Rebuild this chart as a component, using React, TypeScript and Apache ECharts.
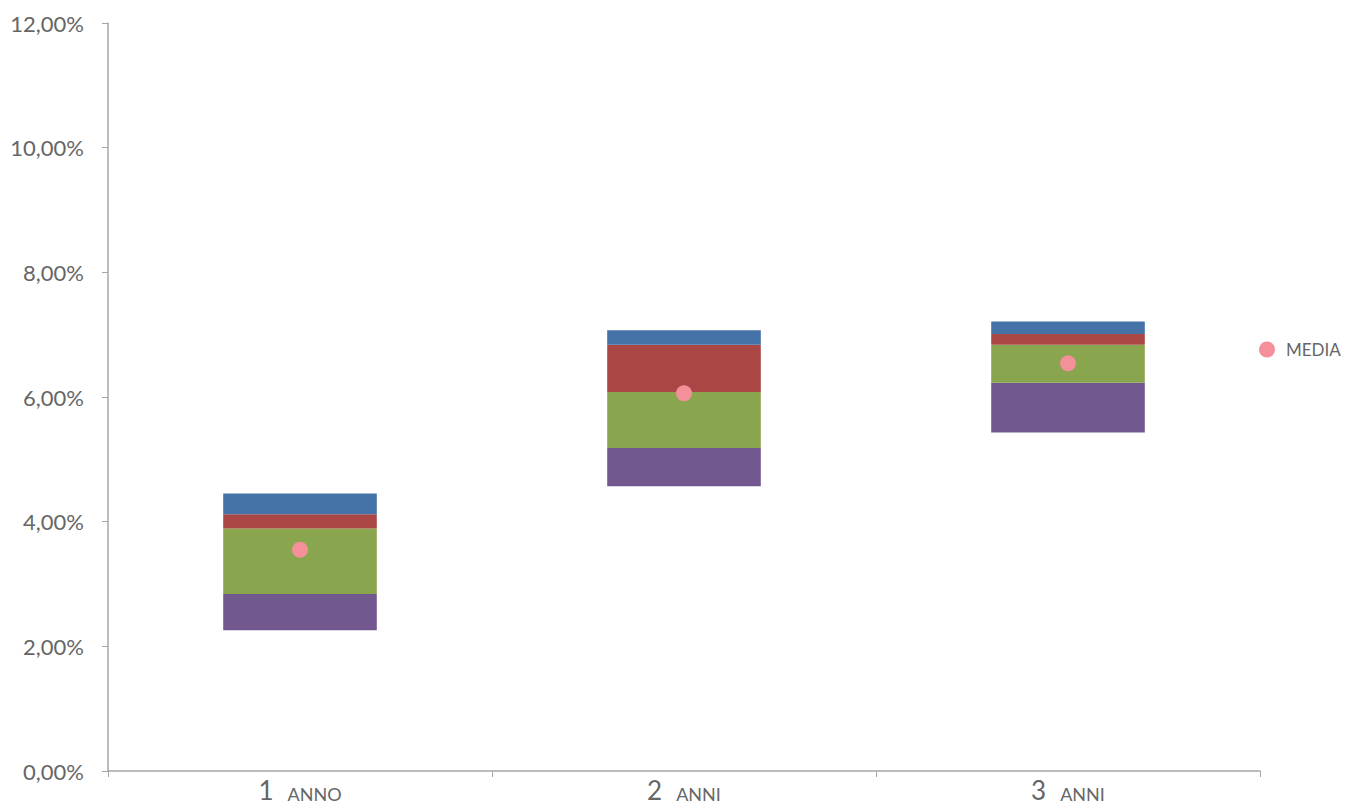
import React, { useEffect, useRef } from "react";
import * as echarts from "echarts";

const categories = ["1|ANNO", "2|ANNI", "3|ANNI"];
// boundaries of the coloured bands (percent)
const bandBottom = [2.26, 4.57, 5.43];
const purpleTop = [2.84, 5.18, 6.23];
const greenTop = [3.89, 6.08, 6.84];
const redTop = [4.12, 6.84, 7.01];
const blueTop = [4.45, 7.07, 7.21];
const media = [3.55, 6.06, 6.54];

const FONT = "Lato";
const TEXT = "#666666";
const AXIS = "#a6a6a6";

export default function App() {
  const ref = useRef<HTMLDivElement>(null);
  useEffect(() => {
    if (!ref.current) return;
    const chart = echarts.init(ref.current, undefined, { renderer: "svg" });
    const diff = (a: number[], b: number[]) => a.map((v, i) => +(v - b[i]).toFixed(4));
    const barCommon = {
      type: "bar" as const,
      stack: "total",
      barWidth: "40%",
      silent: true,
    };
    chart.setOption({
      animation: false,
      backgroundColor: "#ffffff",
      textStyle: { fontFamily: FONT },
      grid: { left: 108, right: 97, top: 23, bottom: 36, containLabel: false },
      legend: {
        data: ["MEDIA"],
        left: 1254,
        top: 336,
        icon: "circle",
        itemWidth: 28,
        itemHeight: 16,
        textStyle: { color: TEXT, fontSize: 17, fontFamily: FONT },
      },
      xAxis: {
        type: "category",
        data: categories,
        boundaryGap: true,
        axisLine: { lineStyle: { color: AXIS, width: 1.5 } },
        axisTick: { show: true, alignWithLabel: false, length: 6, lineStyle: { color: AXIS } },
        axisLabel: {
          margin: 8,
          formatter: (v: string) => {
            const [n, w] = v.split("|");
            return `{big|${n}}{gap|}{small|${w}}`;
          },
          rich: {
            big: { fontSize: 26, lineHeight: 24, color: TEXT, fontFamily: FONT, verticalAlign: "bottom" },
            gap: { width: 14, lineHeight: 24 },
            small: { fontSize: 18, lineHeight: 24, color: TEXT, fontFamily: FONT, verticalAlign: "bottom" },
          },
        },
      },
      yAxis: {
        type: "value",
        min: 0,
        max: 12,
        interval: 2,
        splitLine: { show: false },
        axisLine: { show: true, lineStyle: { color: AXIS, width: 1.5 } },
        axisTick: { show: true, length: 6, lineStyle: { color: AXIS } },
        axisLabel: {
          margin: 24,
          color: TEXT,
          fontSize: 22,
          fontFamily: FONT,
          formatter: (v: number) => v.toFixed(2).replace(".", ",") + "%",
        },
      },
      series: [
        { ...barCommon, name: "base", data: bandBottom, itemStyle: { color: "rgba(0,0,0,0)" } },
        { ...barCommon, name: "p1", data: diff(purpleTop, bandBottom), itemStyle: { color: "#71588f" } },
        { ...barCommon, name: "p2", data: diff(greenTop, purpleTop), itemStyle: { color: "#89a54e" } },
        { ...barCommon, name: "p3", data: diff(redTop, greenTop), itemStyle: { color: "#aa4643" } },
        { ...barCommon, name: "p4", data: diff(blueTop, redTop), itemStyle: { color: "#4572a7" } },
        {
          type: "scatter",
          name: "MEDIA",
          data: media,
          symbol: "circle",
          symbolSize: 16,
          itemStyle: { color: "#f4909a", opacity: 1 },
          z: 10,
        },
      ],
    });
    return () => chart.dispose();
  }, []);
  return (
    <div
      ref={ref}
      style={{ position: "fixed", left: 0, top: 0, width: 1357, height: 807, background: "#fff" }}
    />
  );
}
